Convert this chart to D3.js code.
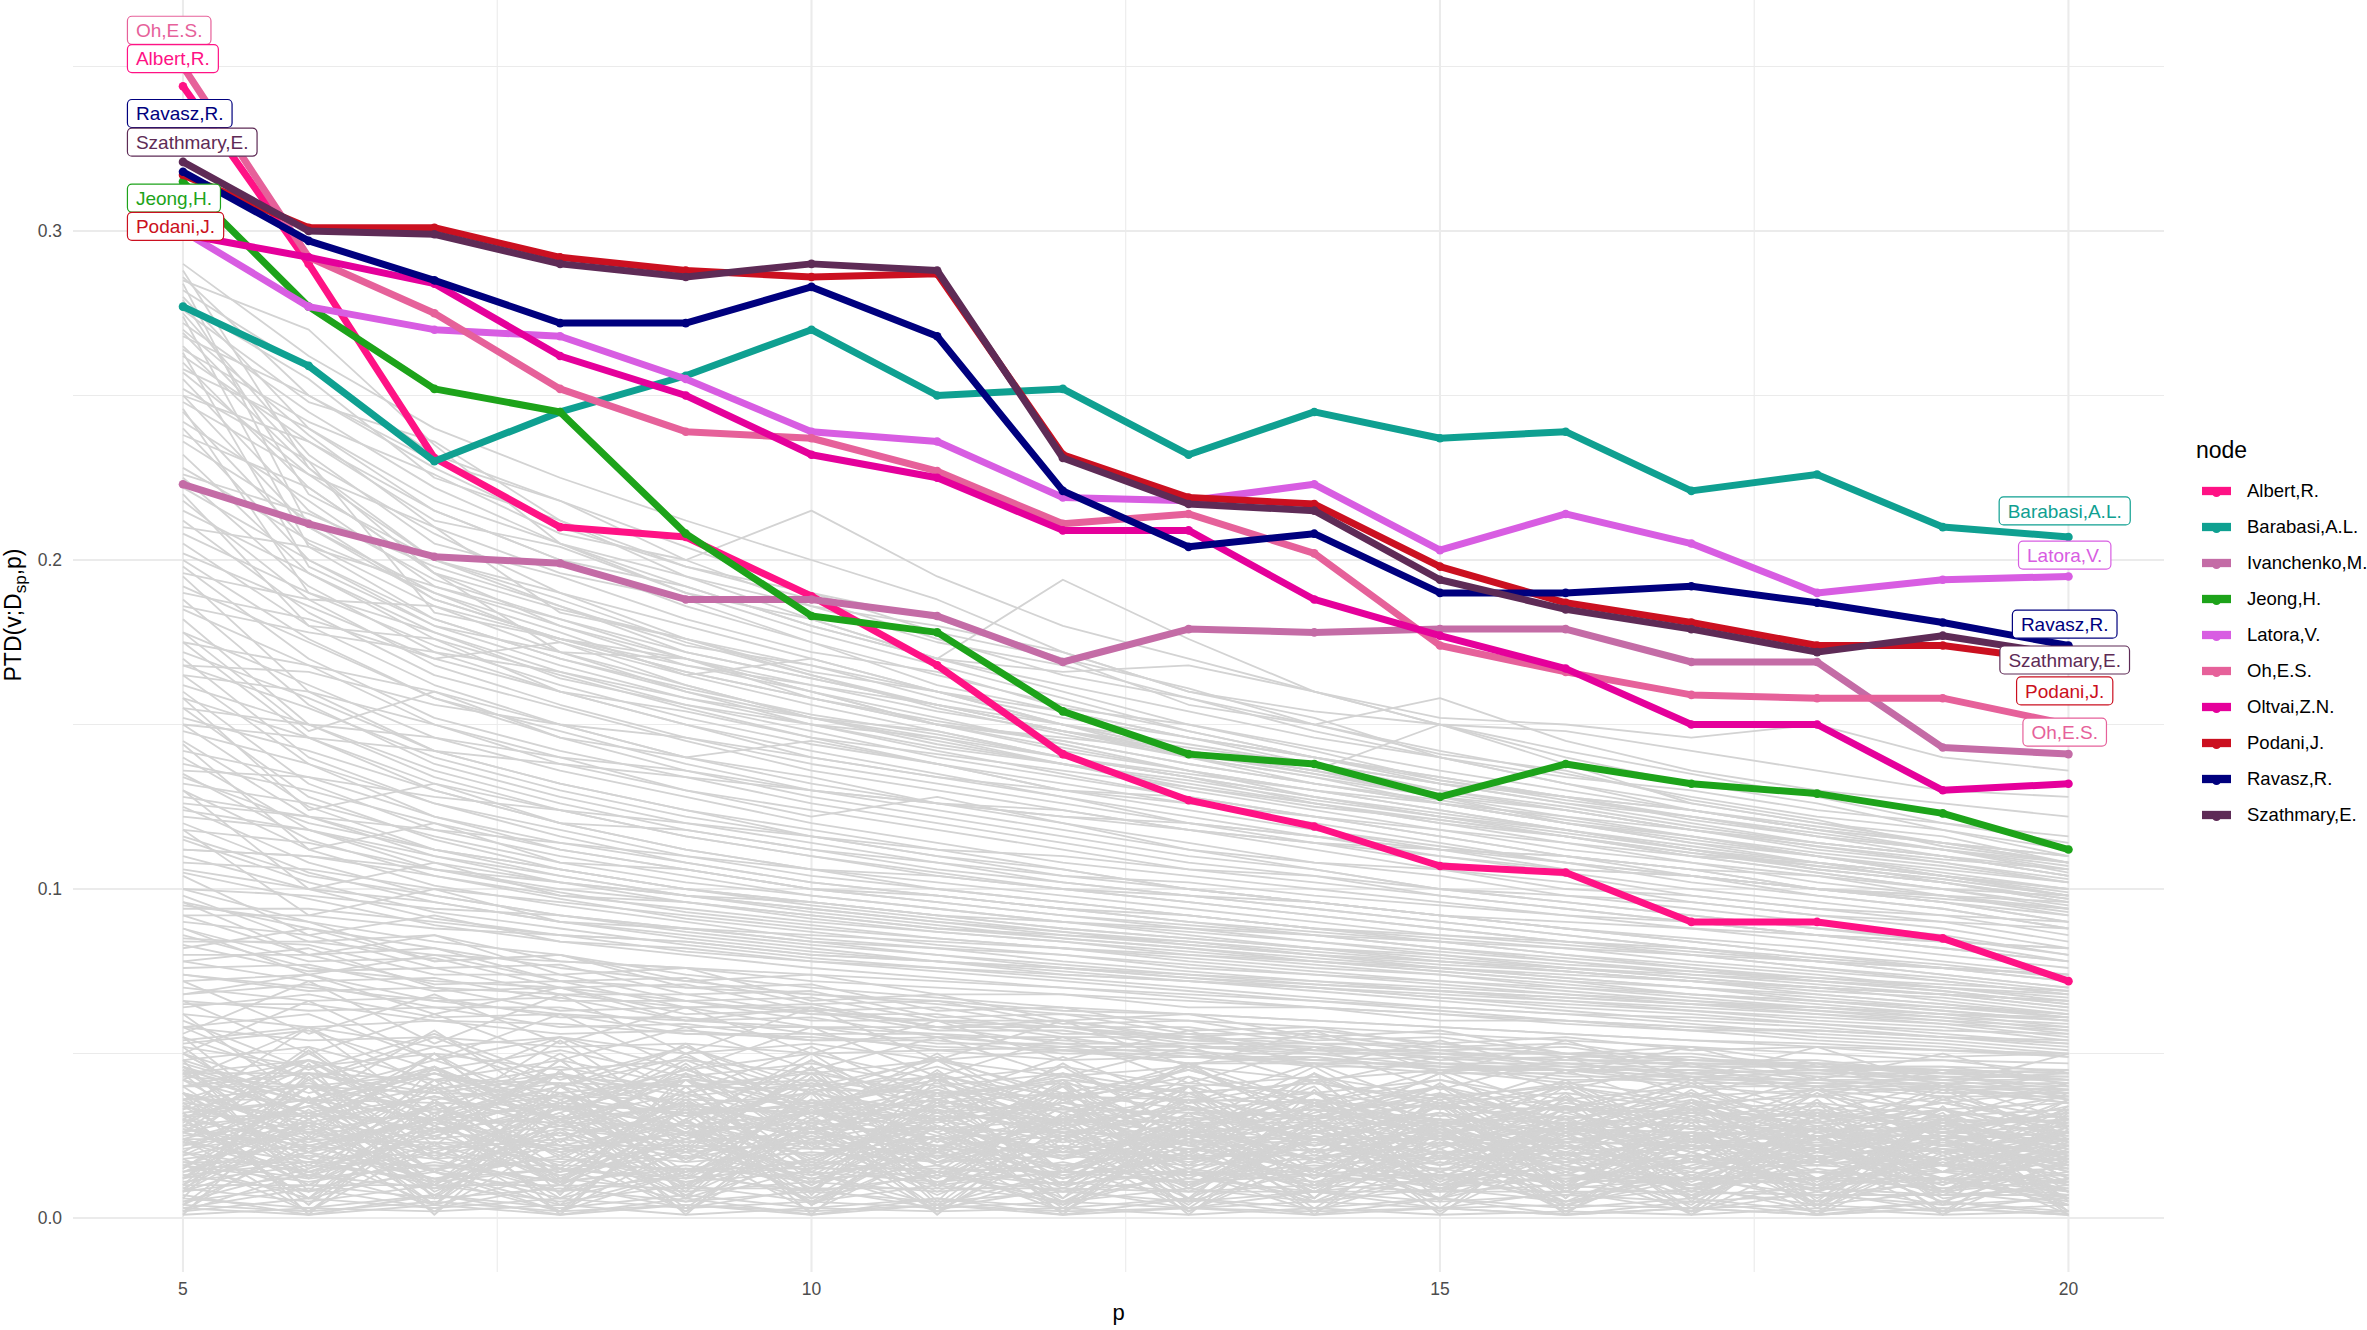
<!DOCTYPE html>
<html><head><meta charset="utf-8">
<script src="https://cdn.jsdelivr.net/npm/d3@7"></script>
<style>body{margin:0;background:#fff}svg{display:block;font-family:"Liberation Sans",Arial,Helvetica,sans-serif}</style>
</head><body><svg id="c" width="2367" height="1330"></svg>
<script>
// ---------- data ----------
const pValues = [5,6,7,8,9,10,11,12,13,14,15,16,17,18,19,20];
const nodes = ["Albert,R.","Barabasi,A.L.","Ivanchenko,M.","Jeong,H.","Latora,V.","Oh,E.S.","Oltvai,Z.N.","Podani,J.","Ravasz,R.","Szathmary,E."];
const nodeColors = ["#FF1285","#0FA091","#C46CA6","#1DA31A","#D85DE2","#E6619A","#E5009B","#CB1020","#00007E","#5E2B56"];
const albert     = [0.344,0.290,0.231,0.210,0.207,0.189,0.168,0.141,0.127,0.119,0.107,0.105,0.090,0.090,0.085,0.072];
const barabasi   = [0.277,0.259,0.230,0.245,0.256,0.270,0.250,0.252,0.232,0.245,0.237,0.239,0.221,0.226,0.210,0.207];
const ivanchenko = [0.223,0.211,0.201,0.199,0.188,0.188,0.183,0.169,0.179,0.178,0.179,0.179,0.169,0.169,0.143,0.141];
const jeong      = [0.315,0.277,0.252,0.245,0.208,0.183,0.178,0.154,0.141,0.138,0.128,0.138,0.132,0.129,0.123,0.112];
const latora     = [0.300,0.277,0.270,0.268,0.255,0.239,0.236,0.219,0.218,0.223,0.203,0.214,0.205,0.190,0.194,0.195];
const oh         = [0.350,0.292,0.275,0.252,0.239,0.237,0.227,0.211,0.214,0.202,0.174,0.166,0.159,0.158,0.158,0.150];
const oltvai     = [0.299,0.292,0.284,0.262,0.250,0.232,0.225,0.209,0.209,0.188,0.177,0.167,0.150,0.150,0.130,0.132];
const podani     = [0.317,0.301,0.301,0.292,0.288,0.286,0.287,0.232,0.219,0.217,0.198,0.187,0.181,0.174,0.174,0.169];
const ravasz     = [0.318,0.297,0.285,0.272,0.272,0.283,0.268,0.221,0.204,0.208,0.190,0.190,0.192,0.187,0.181,0.174];
const szathmary  = [0.321,0.300,0.299,0.290,0.286,0.290,0.288,0.231,0.217,0.215,0.194,0.185,0.179,0.172,0.177,0.171];
const seriesValues = [albert,barabasi,ivanchenko,jeong,latora,oh,oltvai,podani,ravasz,szathmary];

// other nodes, PTD x 1000
const greyLines = [
[290,262,240,225,212,200,188,172,160,152,140,132,124,118,112,105],
[286,250,228,210,198,188,176,165,158,150,142,135,128,122,118,112],
[282,258,232,218,204,190,182,170,161,150,141,136,127,121,113,108],
[280,240,215,200,192,180,170,160,150,143,136,130,124,118,114,110],
[278,255,225,212,195,186,175,168,158,148,140,132,126,120,116,108],
[275,232,205,195,182,172,166,155,150,142,133,128,121,116,110,104],
[272,245,222,205,190,178,168,158,148,140,134,128,122,117,112,106],
[270,238,210,196,188,175,162,154,146,138,130,124,118,112,108,102],
[268,250,230,218,200,215,195,180,170,160,150,142,135,128,120,114],
[265,228,200,190,176,168,158,150,140,134,128,120,115,110,104,100],
[262,236,215,200,186,175,165,156,148,140,132,126,120,114,110,104],
[260,222,196,185,176,165,156,148,140,132,126,120,114,110,104,98],
[258,240,218,205,192,180,170,194,176,160,150,140,132,126,118,110],
[255,215,194,182,170,160,152,144,136,130,124,118,112,106,102,96],
[252,230,208,190,180,170,160,150,142,135,128,122,116,110,105,100],
[250,210,190,178,165,156,148,140,134,128,122,116,110,105,100,95],
[248,226,200,188,175,165,155,147,140,134,126,120,114,108,104,98],
[245,205,186,172,162,152,145,138,131,126,120,114,108,104,98,92],
[242,218,192,180,170,160,150,143,136,130,124,118,112,108,102,97],
[240,200,180,168,158,150,142,135,128,122,116,110,106,100,96,90],
[236,212,188,176,166,158,150,142,136,128,122,118,112,106,102,96],
[232,196,176,165,155,146,138,132,126,120,114,108,104,98,94,88],
[228,206,190,175,162,152,146,140,134,126,120,116,110,105,100,94],
[225,192,172,160,150,142,135,128,122,116,110,105,100,96,92,86],
[222,200,182,170,160,152,144,138,130,124,118,112,108,102,98,93],
[218,188,168,156,146,138,132,126,120,114,108,104,98,94,90,84],
[215,196,178,166,156,148,140,134,128,122,116,110,106,100,96,90],
[212,184,165,155,145,136,130,124,118,112,106,102,96,92,88,82],
[208,190,174,162,152,144,138,130,124,118,113,108,102,98,94,88],
[205,180,162,150,140,132,126,120,114,108,104,98,94,90,86,80],
[202,186,170,175,165,170,160,150,142,136,150,138,126,120,114,108],
[200,176,158,148,138,130,124,118,112,106,100,96,92,88,84,78],
[285,270,235,205,195,182,170,162,154,146,140,134,130,124,120,116],
[276,248,236,212,198,190,178,170,156,150,158,145,136,130,126,122],
[264,242,226,208,200,186,180,172,160,154,150,148,142,136,130,128],
[250,236,212,204,190,182,170,166,168,160,152,150,146,150,140,136],
[288,228,196,180,168,160,150,145,138,132,126,120,116,110,106,102],
[284,210,188,176,170,162,154,148,142,136,128,124,118,114,110,106],
[279,220,200,186,172,164,156,148,141,135,129,124,118,113,108,103],
[274,204,182,170,161,153,147,140,134,128,123,118,113,108,104,99],
[269,230,184,176,166,158,151,145,138,132,127,121,116,111,107,102],
[263,198,180,172,160,150,146,138,133,127,122,117,112,107,103,98],
[257,226,210,184,176,166,160,152,146,140,133,127,122,116,112,107],
[246,190,178,164,156,150,143,138,132,126,121,116,111,106,102,97],
[238,222,196,172,170,158,150,146,142,136,130,125,119,114,110,104],
[226,214,198,186,174,168,160,154,146,140,134,128,124,118,114,108],
[220,180,176,160,154,146,141,136,131,125,121,116,111,107,103,98],
[210,204,192,182,172,164,156,150,144,138,132,126,122,116,112,108],
[196,188,186,176,168,162,156,148,143,138,132,128,124,119,114,110],
[186,178,172,166,158,152,148,140,135,130,126,122,118,113,109,106],
[178,148,160,146,140,134,126,124,118,114,112,106,104,100,97,94],
[168,166,156,150,146,140,134,130,126,122,118,114,110,108,104,100],
[158,124,132,120,118,112,108,104,102,98,95,92,90,86,84,82],
[150,146,142,138,134,130,126,122,120,116,112,110,106,104,100,98],
[144,112,120,108,106,100,98,94,92,88,86,84,82,78,76,74],
[136,134,128,124,120,116,112,110,106,104,100,98,96,92,90,88],
[130,100,108,98,96,92,88,86,84,80,78,76,74,72,70,68],
[126,122,118,114,110,106,104,100,98,96,92,90,88,86,84,82],
[118,92,100,90,88,84,82,80,76,74,72,70,68,66,64,62],
[112,110,106,102,98,96,92,90,88,86,84,82,80,78,76,74],
[104,86,92,84,82,78,76,74,72,70,68,66,64,62,60,58],
[100,98,94,92,88,86,84,82,80,78,76,74,72,70,68,66],
[96,80,86,78,76,72,70,68,66,64,62,60,58,57,55,53],
[92,92,88,86,84,80,78,76,74,72,70,68,66,64,62,61],
[88,74,80,72,70,68,66,63,62,60,58,56,54,53,51,50],
[84,84,80,78,76,74,72,70,68,66,64,62,61,59,57,56],
[198,170,152,142,134,126,120,114,108,104,98,94,90,86,82,78],
[195,160,142,132,124,118,112,106,100,96,92,88,84,80,76,72],
[192,175,158,146,136,128,122,116,110,106,100,96,92,88,85,80],
[188,156,138,128,120,114,108,102,98,94,90,86,82,78,74,70],
[185,168,150,140,130,124,118,112,106,102,98,94,90,86,82,78],
[182,150,134,124,116,110,104,100,96,92,88,84,80,76,72,68],
[178,162,146,136,128,120,114,108,104,100,96,92,88,84,80,76],
[175,146,130,120,112,106,100,96,92,88,84,80,76,72,69,65],
[172,158,142,132,124,116,110,106,100,96,92,88,85,82,78,74],
[170,140,126,116,108,102,98,94,90,86,82,78,74,71,68,64],
[168,155,140,130,122,116,110,104,100,96,92,88,84,80,77,73],
[165,138,122,112,106,100,96,92,88,84,80,76,73,70,66,62],
[162,150,136,126,118,112,106,102,98,94,90,86,82,79,76,72],
[160,132,118,110,104,98,94,90,86,82,78,75,72,68,65,61],
[158,146,132,124,116,110,105,100,96,92,88,84,81,78,74,70],
[155,128,115,106,100,95,91,87,83,80,76,73,70,66,63,60],
[152,142,130,120,112,106,102,98,94,90,86,83,80,76,73,69],
[150,125,112,104,98,93,89,85,82,78,75,72,68,65,62,58],
[148,138,126,118,110,104,100,96,92,88,85,82,78,75,72,68],
[145,122,110,102,96,91,87,84,80,77,74,70,67,64,61,57],
[142,134,122,114,108,102,98,94,90,87,84,80,77,74,70,67],
[140,118,106,99,93,89,85,82,78,75,72,69,66,63,60,56],
[138,130,120,112,106,100,96,92,89,86,82,79,76,73,70,66],
[135,115,104,97,91,87,83,80,77,74,71,68,65,62,59,55],
[132,126,116,108,102,98,94,90,87,84,81,78,75,72,69,65],
[130,112,101,95,90,85,82,78,75,72,69,66,63,60,58,54],
[128,122,112,106,100,96,92,88,85,82,79,76,73,70,68,64],
[125,108,98,92,87,83,80,76,73,70,67,64,62,59,56,53],
[122,118,110,104,98,94,90,87,84,81,78,75,72,69,67,63],
[120,105,96,90,85,81,78,75,72,69,66,63,60,58,55,52],
[118,114,106,100,96,92,88,85,82,79,76,73,70,68,65,62],
[115,102,93,88,83,79,76,73,70,67,64,62,59,56,54,51],
[112,110,104,98,94,90,87,84,81,78,75,72,70,67,64,61],
[110,100,91,86,81,78,75,72,69,66,63,60,58,55,53,50],
[108,106,100,96,92,88,85,82,79,76,74,71,68,66,63,60],
[105,97,89,84,80,76,73,70,67,64,62,59,57,54,52,49],
[175,168,160,150,140,145,138,130,128,118,112,110,104,100,96,92],
[165,160,150,138,130,122,128,120,112,108,106,100,98,94,92,90],
[190,182,170,160,150,140,134,128,120,116,112,108,104,100,98,94],
[155,150,146,140,136,130,126,122,118,114,110,106,104,100,98,96],
[96,88,82,76,72,68,65,62,60,58,56,54,52,50,48,47],
[86,76,72,70,66,62,60,58,55,53,52,50,48,47,45,44],
[78,82,70,68,64,64,58,58,54,52,50,50,46,46,44,43],
[100,90,84,80,74,70,67,64,62,60,58,56,54,52,51,49],
[74,70,66,62,60,58,56,54,52,51,49,48,47,46,45,44],
[106,100,96,90,86,82,78,74,72,70,67,65,63,61,59,57],
[116,104,98,92,88,84,80,77,74,71,69,67,65,63,61,59],
[124,118,108,102,98,94,90,86,83,80,77,75,72,70,68,66],
[134,120,112,106,100,96,92,88,85,82,80,77,75,73,71,69],
[94,94,90,86,84,80,78,76,73,71,69,67,65,64,62,60],
[82,88,78,80,72,74,68,68,64,64,60,60,57,57,55,54],
[68,74,62,70,60,64,58,60,55,57,53,55,51,52,49,50],
[62,58,60,56,57,54,55,52,52,50,50,48,48,46,46,45],
[58,54,55,52,53,50,51,48,49,47,47,45,45,44,44,42],
[54,58,52,55,50,53,48,51,47,49,45,47,44,45,42,44],
[98,84,86,74,76,66,68,60,62,55,57,50,52,47,48,44],
[95,90,78,80,70,71,63,64,57,58,52,53,48,48,44,45],
[92,80,82,72,73,65,66,59,60,54,55,50,50,46,46,42],
[90,86,76,77,68,69,61,62,56,56,51,52,47,47,43,43],
[88,78,79,70,71,63,64,58,58,53,53,49,49,45,45,41],
[85,83,74,74,66,67,60,60,54,55,50,50,46,46,42,42],
[83,75,76,68,68,62,62,56,56,51,51,47,47,43,43,40],
[80,80,71,72,64,65,58,58,53,53,48,49,44,45,41,41],
[78,72,73,66,66,60,60,55,55,50,50,46,46,42,42,38],
[76,77,69,70,62,63,57,57,52,52,47,47,43,44,40,40],
[74,69,70,63,64,58,58,53,53,48,49,45,45,41,41,37],
[72,74,66,67,60,61,55,55,50,50,46,46,42,42,39,39],
[70,66,67,61,61,56,56,51,51,47,47,43,43,40,40,36],
[68,71,64,64,58,58,53,53,49,49,45,45,41,41,38,38],
[66,63,64,58,59,54,54,50,50,46,46,42,42,39,39,35],
[64,68,61,62,56,56,51,52,47,47,44,44,40,40,37,37],
[60,45,56,42,52,40,48,38,45,35,42,33,40,31,37,30],
[58,62,48,55,45,50,42,46,40,43,37,40,35,37,33,35],
[55,42,52,40,49,38,46,36,43,34,40,32,38,30,35,28],
[53,57,45,51,43,47,40,44,38,41,35,38,33,35,31,33],
[50,38,48,36,45,35,42,33,40,31,37,30,35,28,33,26],
[48,52,42,48,40,44,38,41,35,38,33,36,31,34,29,31],
[46,35,44,33,42,32,39,30,37,29,35,27,33,26,31,25],
[44,48,39,44,37,41,35,38,33,36,31,34,29,32,28,30],
[42,32,40,30,38,29,36,28,34,26,32,25,30,24,29,22],
[40,44,36,41,34,38,32,35,30,33,29,31,27,29,26,28],
[38,29,37,28,35,27,33,26,31,24,30,23,28,22,27,21],
[36,40,33,37,31,35,30,33,28,31,26,29,25,27,24,26],
[34,26,33,25,32,24,30,23,29,22,27,21,26,20,25,19],
[32,36,30,34,28,32,27,30,26,28,24,27,23,25,22,24],
[30,23,30,22,29,21,27,21,26,20,25,19,24,18,23,17],
[28,32,27,31,26,29,24,27,23,26,22,24,21,23,20,22],
[27,20,27,20,26,19,25,18,24,18,23,17,22,16,21,15],
[25,29,24,28,23,26,22,25,21,24,20,22,19,21,18,20],
[23,17,23,17,22,16,22,16,21,15,20,15,19,14,18,13],
[21,26,21,24,20,23,19,22,18,21,18,20,17,19,16,18],
[20,14,20,14,19,13,19,13,18,13,17,12,17,12,16,11],
[18,22,18,21,17,20,17,19,16,18,15,17,15,16,14,15],
[16,11,17,11,16,11,16,10,15,10,15,10,14,9,14,9],
[14,19,15,18,14,17,14,16,13,16,13,15,12,14,12,13],
[13,8,14,8,13,8,13,8,12,8,12,7,12,7,11,7],
[11,16,12,15,11,14,11,14,11,13,10,12,10,12,9,11],
[9,5,10,5,10,5,10,5,9,5,9,5,9,4,8,4],
[8,13,9,12,8,11,8,11,8,10,8,10,7,9,7,9],
[6,3,7,3,7,3,6,3,6,3,6,3,6,2,5,2],
[5,10,6,9,5,8,5,8,5,8,5,7,5,7,4,6],
[3,1,4,1,4,1,4,1,3,1,3,1,3,1,3,1],
[2,6,3,6,3,5,3,5,3,5,3,4,3,4,2,4],
[45,20,40,18,36,17,33,15,30,14,28,13,26,12,24,11],
[20,42,18,38,17,34,16,31,15,29,14,27,13,25,12,23],
[35,12,32,11,30,10,28,10,26,9,24,9,22,8,21,8],
[12,33,11,30,10,28,10,26,9,24,9,22,8,21,8,19],
[50,30,46,28,42,26,39,24,36,22,34,21,32,20,30,19],
[28,48,26,44,25,41,23,38,22,35,21,33,20,31,19,29],
[40,40,38,37,36,35,34,33,32,31,30,29,28,27,26,25],
[31,31,30,29,28,27,27,26,25,24,24,23,22,22,21,20],
[24,24,23,22,22,21,21,20,19,19,18,18,17,17,16,16],
[17,17,16,16,15,15,15,14,14,13,13,13,12,12,12,11],
[10,10,10,10,9,9,9,9,8,8,8,8,8,7,7,7],
[55,25,50,23,46,21,43,20,40,19,37,18,35,17,33,16],
[26,52,24,48,22,44,21,41,19,38,18,36,17,33,16,31],
[38,15,35,14,33,13,31,12,29,12,27,11,26,11,24,10],
[15,36,14,34,13,31,12,29,12,27,11,25,11,24,10,22],
[8,28,7,26,7,24,7,22,6,21,6,20,6,18,5,17],
[30,6,28,6,26,5,24,5,23,5,21,5,20,4,19,4],
[44,44,42,41,40,39,38,37,36,35,34,33,32,31,30,29],
[36,36,35,34,33,32,31,30,29,29,28,27,26,25,25,24],
[62,35,57,33,53,31,50,29,47,27,44,26,41,24,39,23],
[33,58,31,54,29,50,27,47,26,44,24,41,23,39,22,36],
[65,65,60,59,56,55,52,51,49,48,46,45,43,42,40,39],
[48,8,46,7,44,7,42,6,40,6,38,6,36,5,34,5],
[6,47,6,45,6,43,5,41,5,39,5,37,5,35,4,33],
[44,12,42,11,40,11,38,10,36,10,35,9,33,9,31,8],
[10,43,10,41,9,39,9,37,9,35,8,34,8,32,8,30],
[40,16,39,15,37,15,35,14,34,13,32,13,31,12,29,12],
[15,40,14,38,14,36,13,34,13,33,12,31,12,30,11,28],
[36,20,35,19,33,18,32,18,30,17,29,16,28,16,26,15],
[19,36,18,34,18,33,17,31,16,30,16,29,15,27,14,26],
[32,4,31,4,30,4,28,3,27,3,26,3,25,3,24,2],
[4,32,4,30,3,29,3,28,3,27,3,26,3,25,2,24],
[28,10,27,10,26,9,25,9,24,9,23,8,22,8,21,8],
[9,29,9,27,9,26,8,25,8,24,8,23,7,22,7,21],
[24,2,23,2,22,2,21,2,21,2,20,2,19,1,18,1],
[2,25,2,24,2,23,2,22,2,21,2,20,1,19,1,18],
[52,24,50,23,47,22,45,21,43,20,41,19,39,18,37,17],
[23,51,22,48,21,46,20,44,19,42,18,40,17,38,16,36],
[46,30,44,29,42,28,40,27,38,26,37,25,35,24,33,23],
[29,46,28,44,27,42,26,40,25,38,24,37,23,35,22,33],
[38,1,36,1,35,1,33,1,32,1,30,1,29,1,28,1],
[1,37,1,35,1,34,1,32,1,31,1,29,1,28,1,27],
[42,22,30,40,18,36,26,14,32,24,12,28,20,10,26,18],
[20,40,28,16,38,22,12,34,18,30,10,24,26,14,8,22],
[34,14,26,38,10,30,22,6,28,18,34,8,24,16,30,12],
[12,36,8,24,32,6,28,18,36,10,22,30,6,20,16,26],
[26,44,18,8,40,14,34,24,4,30,16,38,12,28,20,6],
[8,20,42,30,12,38,4,32,22,14,36,10,30,4,24,14],
[30,6,36,12,24,44,16,2,26,40,8,20,34,18,10,28],
[16,28,4,40,20,8,36,26,14,6,30,18,2,32,22,16],
[22,34,14,26,6,18,30,10,38,20,28,4,16,24,6,10],
[38,18,10,34,28,4,20,40,10,24,14,32,22,8,30,20],
[5,15,25,35,45,35,25,15,5,15,25,35,30,20,12,6],
[45,35,25,15,5,15,25,35,45,35,25,15,10,20,28,24],
[14,24,34,44,34,24,14,4,14,24,34,30,20,10,4,12],
[34,24,14,4,14,24,34,44,34,24,14,4,12,22,30,26],
[24,34,44,34,24,14,4,14,24,34,30,20,10,18,24,14],
[24,14,4,14,24,34,44,34,24,14,6,14,24,28,16,8],
[10,30,50,30,10,30,48,28,10,28,44,26,8,26,40,24],
[50,30,10,30,50,30,10,30,46,28,10,28,42,24,8,20],
[30,50,30,10,30,48,28,10,28,46,26,8,26,40,24,6],
[30,10,30,50,28,10,30,46,26,8,28,42,24,6,24,38],
[3,9,3,10,3,9,3,9,3,8,3,8,2,8,2,7],
[12,20,12,19,11,18,11,17,10,17,10,16,9,15,9,14],
[19,27,19,26,18,25,17,24,17,23,16,22,15,21,14,20],
[26,34,26,33,25,32,24,30,23,29,22,28,21,27,20,26],
[33,41,32,40,31,38,30,37,29,36,28,34,27,33,26,32],
[40,48,39,46,38,45,36,43,35,42,34,40,33,39,31,37],
[7,1,7,1,6,1,6,1,6,1,6,1,5,1,5,1],
[16,6,15,6,15,6,14,5,14,5,13,5,13,5,12,5],
[23,13,22,13,21,12,20,12,19,11,19,11,18,10,17,10],
[31,21,30,20,29,19,28,19,27,18,26,17,25,17,24,16],
[38,28,37,27,35,26,34,25,33,24,32,23,31,22,29,22],
[47,36,45,35,43,34,41,32,40,31,38,30,37,29,35,28],
[58,42,55,40,52,38,49,36,47,35,45,33,43,32,41,30],
[42,58,40,55,38,52,36,49,35,47,33,45,32,43,30,41],
[66,50,62,48,58,45,55,43,52,41,49,39,47,37,45,36],
[50,66,48,62,45,58,43,55,41,52,39,49,37,47,36,45],
[72,56,68,53,64,50,60,48,57,46,54,44,52,42,50,40],
[56,72,53,68,50,64,48,60,46,57,44,54,42,52,40,50],
[2,14,26,38,26,14,2,14,26,38,26,14,2,12,22,30],
[38,26,14,2,14,26,38,26,14,2,14,26,34,22,12,4],
[20,8,20,32,44,32,20,8,20,32,40,28,18,8,18,26],
[44,32,20,8,20,32,44,32,20,8,18,28,36,26,16,8],
[8,44,20,32,8,40,18,30,6,36,16,28,6,32,14,24],
[32,4,40,12,36,8,44,14,30,6,38,10,26,4,30,12],
[14,30,46,22,6,34,18,42,10,26,40,16,4,28,14,34],
[46,20,4,36,12,28,2,24,40,14,30,6,36,20,32,2],
[26,18,34,10,42,16,36,4,28,12,32,22,14,36,8,28],
[12,40,6,30,20,46,10,36,16,44,8,26,38,10,30,18],
[18,2,30,20,2,28,14,38,2,18,6,34,10,2,20,6],
[4,22,12,2,34,4,24,12,20,34,24,2,18,30,4,32],
[36,48,30,44,26,48,32,42,24,44,28,40,22,38,26,34],
[48,36,46,30,48,34,42,28,46,30,40,26,38,24,36,28],
[1,3,2,4,1,3,2,3,1,3,1,2,1,3,1,2],
[4,2,5,2,4,2,4,2,3,2,3,1,3,1,3,1],
[13,17,11,15,12,16,10,14,11,15,9,13,10,14,8,12],
[17,12,16,11,15,12,14,10,14,11,13,9,12,10,12,8],
[27,22,29,21,26,23,28,20,25,22,27,19,24,21,25,18],
[22,28,21,27,23,26,20,27,22,25,19,26,21,24,18,24],
[35,31,37,30,34,32,36,29,33,30,35,28,32,29,33,27],
[31,36,30,35,32,34,29,35,30,33,28,34,29,32,27,32],
[43,40,44,38,42,40,43,37,41,38,42,36,40,37,40,35],
[40,44,38,43,40,42,37,42,38,41,36,41,37,39,35,39],
[52,46,50,45,48,44,48,43,46,42,45,41,44,40,43,39]
];

const xTicks = [5,10,15,20];
const xMinorTicks = [7.5,12.5,17.5];
const yTicks = [0,0.1,0.2,0.3];
const yTickLabels = ["0.0","0.1","0.2","0.3"];
const yMinorTicks = [0.05,0.15,0.25,0.35];

const leftLabelNodes = ["Oh,E.S.","Albert,R.","Ravasz,R.","Szathmary,E.","Jeong,H.","Podani,J."];
const leftLabelY = [0.3610,0.3524,0.3357,0.3270,0.3100,0.3014];
const rightLabelNodes = ["Barabasi,A.L.","Latora,V.","Ravasz,R.","Szathmary,E.","Podani,J.","Oh,E.S."];
const rightLabelY = [0.2149,0.2015,0.1805,0.1696,0.1602,0.1477];

// ---------- drawing ----------
const svg = d3.select("#c");
const panel = {left:73, right:2164, top:0, bottom:1272};
const x = d3.scaleLinear().domain([4.125,20.76]).range([panel.left,panel.right]);
const y = d3.scaleLinear().domain([-0.0164,0.3702]).range([panel.bottom,panel.top]);
const colorOf = d3.scaleOrdinal().domain(nodes).range(nodeColors);

const grid = svg.append("g");
grid.selectAll(".ymin").data(yMinorTicks).join("line")
  .attr("x1",panel.left).attr("x2",panel.right).attr("y1",d=>y(d)).attr("y2",d=>y(d))
  .attr("stroke","#EBEBEB").attr("stroke-width",1.1);
grid.selectAll(".xmin").data(xMinorTicks).join("line")
  .attr("y1",panel.top).attr("y2",panel.bottom).attr("x1",d=>x(d)).attr("x2",d=>x(d))
  .attr("stroke","#EBEBEB").attr("stroke-width",1.1);
grid.selectAll(".ymaj").data(yTicks).join("line")
  .attr("x1",panel.left).attr("x2",panel.right).attr("y1",d=>y(d)).attr("y2",d=>y(d))
  .attr("stroke","#EBEBEB").attr("stroke-width",2.1);
grid.selectAll(".xmaj").data(xTicks).join("line")
  .attr("y1",panel.top).attr("y2",panel.bottom).attr("x1",d=>x(d)).attr("x2",d=>x(d))
  .attr("stroke","#EBEBEB").attr("stroke-width",2.1);

const line = d3.line().x((d,i)=>x(pValues[i])).y(d=>y(d));

svg.append("g").selectAll("path").data(greyLines.map(r=>r.map(v=>v/1000))).join("path")
  .attr("d",line).attr("fill","none").attr("stroke","#D3D3D3").attr("stroke-width",1.8)
  .attr("stroke-linejoin","round");

const hl = svg.append("g");
nodes.forEach((n,k)=>{
  const g = hl.append("g");
  g.append("path").datum(seriesValues[k]).attr("d",line).attr("fill","none")
    .attr("stroke",colorOf(n)).attr("stroke-width",7).attr("stroke-linejoin","round").attr("stroke-linecap","round");
  g.selectAll("circle").data(seriesValues[k]).join("circle")
    .attr("cx",(d,i)=>x(pValues[i])).attr("cy",d=>y(d)).attr("r",4.3).attr("fill",colorOf(n));
});

// axes text
const tickFont = 17.5;
svg.append("g").selectAll("text").data(yTicks).join("text")
  .attr("x",62).attr("y",d=>y(d)).attr("dy","0.35em").attr("text-anchor","end")
  .attr("font-size",tickFont).attr("fill","#4D4D4D").text((d,i)=>yTickLabels[i]);
svg.append("g").selectAll("text").data(xTicks).join("text")
  .attr("x",d=>x(d)).attr("y",1295).attr("text-anchor","middle")
  .attr("font-size",tickFont).attr("fill","#4D4D4D").text(d=>d);
svg.append("text").attr("x",(panel.left+panel.right)/2).attr("y",1320).attr("text-anchor","middle")
  .attr("font-size",22).attr("fill","#000").text("p");
const yt = svg.append("text").attr("transform","translate(21,615) rotate(-90)").attr("text-anchor","middle")
  .attr("font-size",23).attr("fill","#000");
yt.append("tspan").text("PTD(v;D");
yt.append("tspan").attr("font-size",17).attr("dy",5).text("sp");
yt.append("tspan").attr("dy",-5).text(",p)");

// labels
function drawLabel(g, name, cx, cy, anchor){
  const col = colorOf(name);
  const lg = g.append("g");
  const rect = lg.append("rect");
  const t = lg.append("text").attr("font-size",19).attr("fill",col).text(name);
  const w = t.node().getComputedTextLength();
  const pad = 8.5, h = 28;
  const left = anchor==="start" ? cx : cx - (w+2*pad)/2;
  rect.attr("x",left).attr("y",cy-h/2).attr("width",w+2*pad).attr("height",h)
    .attr("rx",4.5).attr("fill","#fff").attr("stroke",col).attr("stroke-width",1.2);
  t.attr("x",left+pad).attr("y",cy).attr("dy","0.35em");
}
const labels = svg.append("g");
leftLabelNodes.forEach((n,i)=>drawLabel(labels,n,x(4.558),y(leftLabelY[i]),"start"));
rightLabelNodes.forEach((n,i)=>drawLabel(labels,n,x(19.97),y(rightLabelY[i]),"middle"));

// legend
const lg = svg.append("g");
lg.append("text").attr("x",2196).attr("y",458).attr("font-size",23).attr("fill","#000").text("node");
nodes.forEach((n,i)=>{
  const cy = 491 + i*36;
  lg.append("line").attr("x1",2202).attr("x2",2231).attr("y1",cy).attr("y2",cy)
    .attr("stroke",colorOf(n)).attr("stroke-width",8.3);
  lg.append("circle").attr("cx",2216.5).attr("cy",cy+1.5).attr("r",4.5).attr("fill",colorOf(n));
  lg.append("text").attr("x",2247).attr("y",cy).attr("dy","0.35em").attr("font-size",18.5).attr("fill","#000").text(n);
});
</script></body></html>
